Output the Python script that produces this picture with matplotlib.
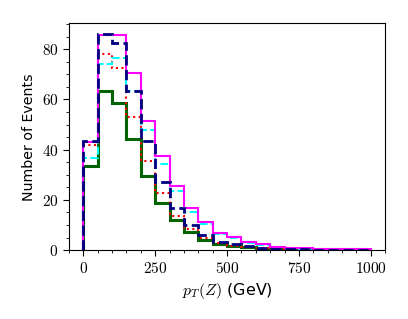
import numpy as np
import matplotlib
matplotlib.use('Agg')
import matplotlib.pyplot as plt
from matplotlib.ticker import AutoMinorLocator, FuncFormatter

# bin edges in GeV
edges = np.arange(0, 1001, 50)
centers = 0.5 * (edges[:-1] + edges[1:])

# events per bin
green = [33.6, 63.3, 58.6, 44.4, 29.6, 18.8, 11.9, 7.3, 4.2, 2.4,
         1.5, 1.1, 0.5, 0.35, 0.25, 0.15, 0.1, 0.08, 0.05, 0.03]
red = [41.8, 77.9, 72.3, 53.1, 35.5, 22.8, 13.7, 8.2, 4.9, 2.9,
       1.8, 1.3, 0.7, 0.4, 0.3, 0.2, 0.15, 0.1, 0.08, 0.05]
cyan = [36.6, 74.1, 76.3, 63.2, 48.0, 34.2, 23.5, 15.3, 10.3, 6.6,
        4.9, 3.0, 2.0, 1.3, 0.8, 0.6, 0.45, 0.35, 0.25, 0.2]
navy = [43.5, 86.0, 82.6, 63.5, 43.4, 27.2, 16.8, 10.0, 6.0, 3.3,
        2.3, 1.5, 0.8, 0.5, 0.35, 0.25, 0.2, 0.15, 0.1, 0.08]
magenta = [43.1, 85.6, 85.6, 70.6, 51.5, 37.4, 25.6, 16.8, 11.0, 6.9,
           5.3, 3.3, 2.3, 1.4, 0.9, 0.7, 0.5, 0.4, 0.3, 0.25]

plt.rcParams['mathtext.fontset'] = 'cm'
plt.rcParams['font.size'] = 11

fig = plt.figure(figsize=(4.08, 3.19), dpi=100)
ax = fig.add_axes([0.169, 0.216, 0.775, 0.711])

ax.hist(centers, bins=edges, weights=green, histtype='step', color='darkgreen', lw=2.2)
ax.hist(centers, bins=edges, weights=red, histtype='step', color='red', ls=':', lw=1.5)
ax.hist(centers, bins=edges, weights=cyan, histtype='step', color='cyan', ls='--', lw=1.5)
ax.hist(centers, bins=edges, weights=magenta, histtype='step', color='magenta', lw=1.5)
ax.hist(centers, bins=edges, weights=navy, histtype='step', color='navy', ls='--', lw=2.0)

ax.set_xlim(-50, 1050)
ax.set_ylim(0, 90.3)
ax.set_xticks([0, 250, 500, 750, 1000])
ax.set_yticks([0, 20, 40, 60, 80])
ax.xaxis.set_minor_locator(AutoMinorLocator())
ax.yaxis.set_minor_locator(AutoMinorLocator())
ax.xaxis.set_major_formatter(FuncFormatter(lambda v, p: '$%d$' % v))
ax.yaxis.set_major_formatter(FuncFormatter(lambda v, p: '$%d$' % v))
ax.tick_params(which='major', length=4)
ax.tick_params(which='minor', length=2)

ax.set_xlabel('$p_T(Z)$ (GeV)', fontsize=11.5)
ax.set_ylabel('Number of Events', fontsize=10.2)

fig.savefig('out.png', dpi=100)
